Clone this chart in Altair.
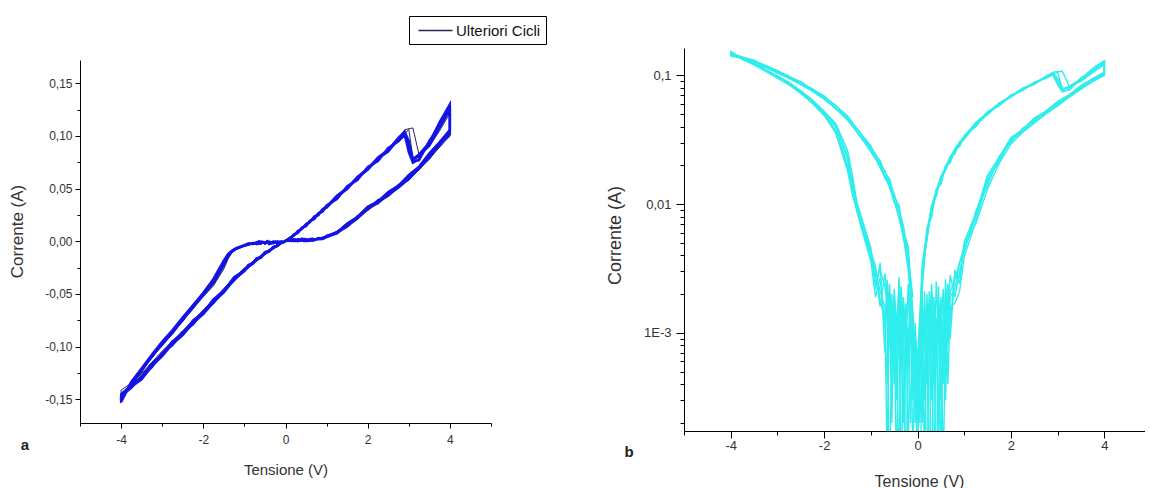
import altair as alt
import pandas as pd

FONT = "Liberation Sans"
BLUE = "#1414e6"
NAVY = "#26265e"
CYAN = "#30eded"

# ---- voltage sweep of one cycle (V): 0 -> +4 -> 0 -> -4 -> 0 ----
V_FWD_POS = [0.0, 0.1, 0.2, 0.3, 0.4, 0.5, 0.6, 0.7, 0.8, 0.9, 1.0, 1.25, 1.5, 1.75, 2.0,
             2.25, 2.5, 2.75, 2.9, 3.0, 3.1, 3.25, 3.5, 3.75, 4.0]
V_RET_POS = [4.0, 3.75, 3.5, 3.25, 3.0, 2.75, 2.5, 2.25, 2.0, 1.75, 1.5, 1.25, 1.0, 0.9, 0.8,
             0.7, 0.65, 0.6, 0.55, 0.5, 0.45, 0.4, 0.35, 0.3, 0.25, 0.2, 0.15, 0.1, 0.05, 0.0]
V_FWD_NEG = [-0.05, -0.1, -0.15, -0.2, -0.25, -0.3, -0.35, -0.4, -0.45, -0.5, -0.55, -0.6, -0.65, -0.7,
             -0.8, -0.9, -1.0, -1.2, -1.3, -1.4, -1.5,
             -1.75, -2.0, -2.25, -2.5, -2.75, -3.0, -3.25, -3.5, -3.75, -4.0]
V_RET_NEG = [-4.0, -3.75, -3.5, -3.25, -3.0, -2.75, -2.5, -2.25, -2.0, -1.75, -1.5, -1.25,
             -1.0, -0.9, -0.8, -0.7, -0.6, -0.5, -0.4, -0.3, -0.2, -0.1]
V_SWEEP = V_FWD_POS + V_RET_POS + V_FWD_NEG + V_RET_NEG

# ---- current (A) of each cycle ----
CYCLE_1 = [
    0.0004, 0.0031, 0.0052, 0.0094, 0.0115, 0.0159, 0.0181, 0.0228, 0.0246, 0.0298, 0.0318, 0.0421, 0.0495,
    0.0603, 0.0678, 0.0784, 0.0851, 0.0971, 0.1025, 0.0915, 0.0768, 0.0812, 0.0905, 0.1078, 0.1248,
    0.1015, 0.0921, 0.0788, 0.0701, 0.0588, 0.0531, 0.0432, 0.0389, 0.0301, 0.0236, 0.0139, 0.0089,
    0.0042, 0.0035, 0.0022,
    0.0019, 0.0008, 0.0021, 0.0004, 0.0015, 0.0001, 0.0012, 0.0006, 0.0018, 0.00005, 0.0009, 0.0013,
    0.0002, 0.0010, 0.00008,
    -0.0006, -0.0015, -0.0002, -0.0011, -0.00004, -0.0017, -0.0007, -0.0021, -0.0003, -0.0013, -0.0009,
    -0.0024, -0.0001, -0.0016,
    -0.0021, -0.0030, -0.0041, -0.0072, -0.0101, -0.0148, -0.0225,
    -0.0392, -0.0512, -0.0611, -0.0752, -0.0851, -0.0983, -0.1081, -0.1232, -0.1342, -0.1505,
    -0.1468, -0.1392, -0.1281, -0.1195, -0.1062, -0.0986, -0.0863, -0.0789, -0.0668, -0.0586, -0.0462,
    -0.0371, -0.0268, -0.0245, -0.0203, -0.0181, -0.0144, -0.0121, -0.0088, -0.0068, -0.0038, -0.0019]
CYCLE_2 = [
    0.0002, 0.0024, 0.0061, 0.0082, 0.0127, 0.0146, 0.0193, 0.0214, 0.0262, 0.0283, 0.0334, 0.0405, 0.0516,
    0.0586, 0.0697, 0.0768, 0.0879, 0.0955, 0.1008, 0.0842, 0.0745, 0.0779, 0.0942, 0.1095, 0.1281,
    0.1042, 0.0928, 0.0822, 0.0696, 0.0618, 0.0515, 0.0458, 0.0368, 0.0322, 0.0221, 0.0161, 0.0079,
    0.0048, 0.0027, 0.0029,
    0.0012, 0.0023, 0.0005, 0.0017, 0.00009, 0.0014, 0.0007, 0.0019, 0.0003, 0.0011, 0.00004, 0.0016,
    0.0008, 0.0002, 0.0007,
    -0.0009, -0.0003, -0.0018, -0.0008, -0.0014, -0.0002, -0.0019, -0.00007, -0.0012, -0.0022, -0.0005,
    -0.0015, -0.0026, -0.0011,
    -0.0027, -0.0019, -0.0036, -0.0065, -0.0088, -0.0121, -0.0182,
    -0.0355, -0.0492, -0.0625, -0.0731, -0.0862, -0.0961, -0.1098, -0.1211, -0.1351, -0.1482,
    -0.1455, -0.1365, -0.1289, -0.1166, -0.1071, -0.0955, -0.0871, -0.0758, -0.0672, -0.0555, -0.0468,
    -0.0346, -0.0274, -0.0228, -0.0209, -0.0164, -0.0151, -0.0105, -0.0092, -0.0056, -0.0042, -0.0012]
CYCLE_3 = [
    0.0006, 0.0034, 0.0062, 0.0096, 0.0128, 0.0161, 0.0197, 0.0231, 0.0268, 0.0302, 0.0338, 0.0428, 0.0518,
    0.0604, 0.0696, 0.0782, 0.0869, 0.0972, 0.1058, 0.1068, 0.1075, 0.0818, 0.0902, 0.1048, 0.1215,
    0.0998, 0.0892, 0.0781, 0.0678, 0.0579, 0.0502, 0.0425, 0.0361, 0.0292, 0.0208, 0.0131, 0.0071,
    0.0047, 0.0035, 0.0026,
    0.0021, 0.0011, 0.0026, 0.0006, 0.0018, 0.0002, 0.0013, 0.00006, 0.0010, 0.0021, 0.0004, 0.0015,
    0.0009, 0.00003, 0.0004,
    -0.0004, -0.0012, -0.0021, -0.0006, -0.0016, -0.0010, -0.00005, -0.0019, -0.0013, -0.0004, -0.0020,
    -0.0008, -0.0017, -0.0023,
    -0.0031, -0.0024, -0.0046, -0.0079, -0.0104, -0.0172, -0.0262,
    -0.0421, -0.0526, -0.0642, -0.0758, -0.0882, -0.0991, -0.1108, -0.1238, -0.1368, -0.1518,
    -0.1412, -0.1348, -0.1255, -0.1148, -0.1042, -0.0948, -0.0848, -0.0752, -0.0652, -0.0551, -0.0449,
    -0.0345, -0.0255, -0.0225, -0.0192, -0.0162, -0.0135, -0.0105, -0.0079, -0.0055, -0.0031, -0.0011]
CYCLE_4 = [
    0.0001, 0.0029, 0.0054, 0.0098, 0.0119, 0.0165, 0.0188, 0.0236, 0.0255, 0.0305, 0.0329, 0.0432, 0.0505,
    0.0612, 0.0688, 0.0796, 0.0868, 0.0985, 0.1042, 0.0952, 0.0782, 0.0825, 0.0938, 0.1132, 0.1302,
    0.1058, 0.0942, 0.0835, 0.0709, 0.0629, 0.0528, 0.0468, 0.0379, 0.0329, 0.0231, 0.0168, 0.0085,
    0.0051, 0.0024, 0.0031,
    0.0009, 0.0024, 0.0013, 0.00007, 0.0019, 0.0010, 0.0025, 0.0004, 0.0016, 0.0007, 0.0020, 0.0001,
    0.0012, 0.0006, 0.0002,
    -0.0011, -0.0001, -0.0016, -0.0024, -0.0007, -0.0019, -0.0012, -0.0027, -0.00006, -0.0018, -0.0009,
    -0.0022, -0.0004, -0.0013,
    -0.0018, -0.0033, -0.0043, -0.0069, -0.0093, -0.0135, -0.0205,
    -0.0371, -0.0498, -0.0632, -0.0741, -0.0871, -0.0972, -0.1089, -0.1221, -0.1338, -0.1528,
    -0.1478, -0.1381, -0.1311, -0.1186, -0.1092, -0.0976, -0.0892, -0.0778, -0.0692, -0.0578, -0.0486,
    -0.0365, -0.0284, -0.0241, -0.0218, -0.0176, -0.0158, -0.0114, -0.0099, -0.0062, -0.0047, -0.0015]
CYCLE_5 = [
    0.0003, 0.0029, 0.0055, 0.0091, 0.0119, 0.0155, 0.0189, 0.0219, 0.0258, 0.0288, 0.0325, 0.0412, 0.0502,
    0.0592, 0.0682, 0.0772, 0.0861, 0.0958, 0.1018, 0.1062, 0.0792, 0.0795, 0.0921, 0.1082, 0.1265,
    0.1025, 0.0918, 0.0802, 0.0692, 0.0598, 0.0521, 0.0442, 0.0375, 0.0311, 0.0228, 0.0148, 0.0082,
    0.0044, 0.0030, 0.0019,
    0.0028, 0.0014, 0.0003, 0.0022, 0.0011, 0.0017, 0.00005, 0.0012, 0.0024, 0.0008, 0.0015, 0.0003,
    0.0019, 0.0011, 0.0005,
    -0.0002, -0.0014, -0.0008, -0.0020, -0.0011, -0.00003, -0.0015, -0.0025, -0.0009, -0.0018, -0.0002,
    -0.0014, -0.0021, -0.0007,
    -0.0035, -0.0022, -0.0044, -0.0074, -0.0101, -0.0158, -0.0241,
    -0.0412, -0.0518, -0.0635, -0.0751, -0.0875, -0.0982, -0.1099, -0.1229, -0.1359, -0.1495,
    -0.1442, -0.1365, -0.1268, -0.1162, -0.1055, -0.0958, -0.0856, -0.0758, -0.0658, -0.0558, -0.0455,
    -0.0348, -0.0258, -0.0228, -0.0195, -0.0165, -0.0138, -0.0108, -0.0082, -0.0057, -0.0034, -0.0012]
CYCLE_6 = [
    0.0005, 0.0022, 0.0065, 0.0079, 0.0131, 0.0142, 0.0198, 0.0209, 0.0269, 0.0279, 0.0341, 0.0399, 0.0522,
    0.0579, 0.0705, 0.0761, 0.0887, 0.0948, 0.1015, 0.0889, 0.0758, 0.0769, 0.0955, 0.1089, 0.1276,
    0.1035, 0.0909, 0.0811, 0.0685, 0.0605, 0.0509, 0.0449, 0.0361, 0.0315, 0.0215, 0.0154, 0.0074,
    0.0039, 0.0021, 0.0017,
    0.0016, 0.0004, 0.0020, 0.0010, 0.0003, 0.0023, 0.0008, 0.0014, 0.00004, 0.0017, 0.0006, 0.0021,
    0.0003, 0.0013, 0.0004,
    -0.0012, -0.0005, -0.0022, -0.0001, -0.0017, -0.0009, -0.0023, -0.0013, -0.0004, -0.0020, -0.0011,
    -0.00005, -0.0018, -0.0029,
    -0.0016, -0.0029, -0.0038, -0.0068, -0.0095, -0.0129, -0.0195,
    -0.0362, -0.0488, -0.0605, -0.0722, -0.0842, -0.0952, -0.1075, -0.1205, -0.1332, -0.1512,
    -0.1461, -0.1356, -0.1296, -0.1159, -0.1078, -0.0949, -0.0879, -0.0751, -0.0679, -0.0549, -0.0475,
    -0.0341, -0.0279, -0.0223, -0.0214, -0.0159, -0.0155, -0.0102, -0.0096, -0.0053, -0.0045, -0.0010]

CYCLES = ["1", "2", "3", "4", "5", "6"]
CYCLE_VALUES = [CYCLE_1, CYCLE_2, CYCLE_3, CYCLE_4, CYCLE_5, CYCLE_6]
CYCLE_TONE = ["blu", "blu", "scuro", "blu", "scuro", "blu"]

SERIES_NAME = "Ulteriori Cicli"
PANEL_LABELS = ["a", "b"]

X_TICKS = [-5, -4, -3, -2, -1, 0, 1, 2, 3, 4, 5]
Y_TICKS_A = [-0.15, -0.125, -0.1, -0.075, -0.05, -0.025, 0.0, 0.025, 0.05, 0.075, 0.1, 0.125, 0.15]
Y_TICKS_B = [0.0002, 0.0003, 0.0004, 0.0005, 0.0006, 0.0007, 0.0008, 0.0009,
             0.001, 0.002, 0.003, 0.004, 0.005, 0.006, 0.007, 0.008, 0.009,
             0.01, 0.02, 0.03, 0.04, 0.05, 0.06, 0.07, 0.08, 0.09, 0.1]

rows = []
for name, vals, tone in zip(CYCLES, CYCLE_VALUES, CYCLE_TONE):
    assert len(vals) == len(V_SWEEP), (name, len(vals), len(V_SWEEP))
    for k, (v, i) in enumerate(zip(V_SWEEP, vals)):
        rows.append({"ciclo": name, "k": k, "V": v, "I": i, "tono": tone})
df = pd.DataFrame(rows)

common_axis = dict(grid=False, domainColor="#000", tickColor="#000", domainWidth=1, tickWidth=1,
                   labelFont=FONT, labelColor="#333", titleFont=FONT,
                   titleFontWeight="normal", titleColor="#333", labelOverlap=False, labelFlush=False)

x_label = "datum.value % 2 == 0 ? (datum.value < 0 ? '-' : '') + abs(datum.value) : ''"

# ------------------- panel a -------------------
WA, HA = 411, 375
xa = alt.X("V:Q", scale=alt.Scale(domain=[-5, 5], nice=False, zero=False),
           axis=alt.Axis(values=X_TICKS, labelExpr=x_label,
                         tickSize={"condition": {"test": "datum.value % 2 == 0", "value": 5}, "value": 3},
                         title="Tensione (V)", titleFontSize=15, titleY=46, titleBaseline="middle",
                         labelFontSize=12, labelPadding=6, **common_axis))
major_a = "abs(datum.value*20 - round(datum.value*20)) < 0.001"
ya = alt.Y("I:Q", scale=alt.Scale(domain=[-0.1725, 0.172], range=[HA, 12], nice=False, zero=False),
           axis=alt.Axis(values=Y_TICKS_A,
                         labelExpr=major_a + " ? (datum.value < -0.0001 ? '-' : '') + "
                                   "replace(format(abs(datum.value), '.2f'), '.', ',') : ''",
                         tickSize={"condition": {"test": major_a, "value": 5}, "value": 3},
                         title="Corrente (A)", titleFontSize=17, titleX=-63, titleY=183,
                         titleBaseline="middle", labelFontSize=12, labelPadding=3, **common_axis))

base_a = alt.Chart(df).mark_line(clip=True).encode(
    x=xa, y=ya, detail="ciclo:N", order="k:Q")

navy_a = base_a.transform_filter("datum.tono == 'scuro'").transform_calculate(
    serie="'" + SERIES_NAME + "'").mark_line(clip=True, strokeWidth=1.0).encode(
    color=alt.Color("serie:N", scale=alt.Scale(domain=[SERIES_NAME], range=[NAVY]),
                    legend=alt.Legend(orient="none", legendX=329, legendY=-32, title=None,
                                      strokeColor="#000", fillColor="#fff", padding=5,
                                      labelFont=FONT, labelFontSize=15, labelColor="#111",
                                      symbolType="M-2,0H2", symbolSize=289, symbolStrokeWidth=1.5,
                                      symbolStrokeColor=NAVY, symbolFillColor="transparent",
                                      symbolOffset=12, labelOffset=11)))
blue_a = base_a.transform_filter("datum.tono == 'blu'").mark_line(
    clip=True, strokeWidth=2.3, color=BLUE)

lab_a = alt.Chart(pd.DataFrame({"lab": [PANEL_LABELS[0]]})).mark_text(
    font=FONT, fontSize=15, fontWeight="bold", color="#222").encode(
    text="lab:N", x=alt.value(-55), y=alt.value(397))

panel_a = alt.layer(navy_a, blue_a, lab_a).properties(width=WA, height=HA)

# ------------------- panel b -------------------
WB, HB = 461, 383
xb = alt.X("V:Q", scale=alt.Scale(domain=[-5, 4.87], nice=False, zero=False),
           axis=alt.Axis(values=X_TICKS[:-1], labelExpr=x_label,
                         tickSize={"condition": {"test": "datum.value % 2 == 0", "value": 7}, "value": 4},
                         title="Tensione (V)", titleFontSize=16, titleY=50, titleX=235,
                         titleBaseline="middle", labelFontSize=13, labelPadding=1, **common_axis))
decade = "abs(log(datum.value)/LN10 - round(log(datum.value)/LN10)) < 0.01"
yb = alt.Y("absI:Q", scale=alt.Scale(type="log", domain=[1.73e-4, 0.163], nice=False),
           axis=alt.Axis(values=Y_TICKS_B,
                         labelExpr="abs(datum.value - 0.1) < 1e-9 ? '0,1' : "
                                   "abs(datum.value - 0.01) < 1e-10 ? '0,01' : "
                                   "abs(datum.value - 0.001) < 1e-11 ? '1E-3' : ''",
                         tickSize={"condition": {"test": decade, "value": 8}, "value": 4},
                         title="Corrente (A)", titleFontSize=18, titleX=-69, titleY=187,
                         titleBaseline="middle", labelFontSize=13, labelPadding=5, **common_axis))

lines_b = alt.Chart(df).transform_calculate(absI="abs(datum.I)").mark_line(
    clip=True, strokeWidth=1.4, color=CYAN).encode(x=xb, y=yb, detail="ciclo:N", order="k:Q")
lab_b = alt.Chart(pd.DataFrame({"lab": [PANEL_LABELS[1]]})).mark_text(
    font=FONT, fontSize=15, fontWeight="bold", color="#222").encode(
    text="lab:N", x=alt.value(-55), y=alt.value(404))

panel_b = alt.layer(lines_b, lab_b).properties(width=WB, height=HB)

chart = alt.hconcat(panel_a, panel_b, spacing=114).properties(
    padding={"left": 8, "top": 15, "right": 0, "bottom": 0},
    background="white"
).configure_view(stroke="transparent", strokeWidth=0)

chart.save("out.html", embed_options={"renderer": "svg", "actions": False})
